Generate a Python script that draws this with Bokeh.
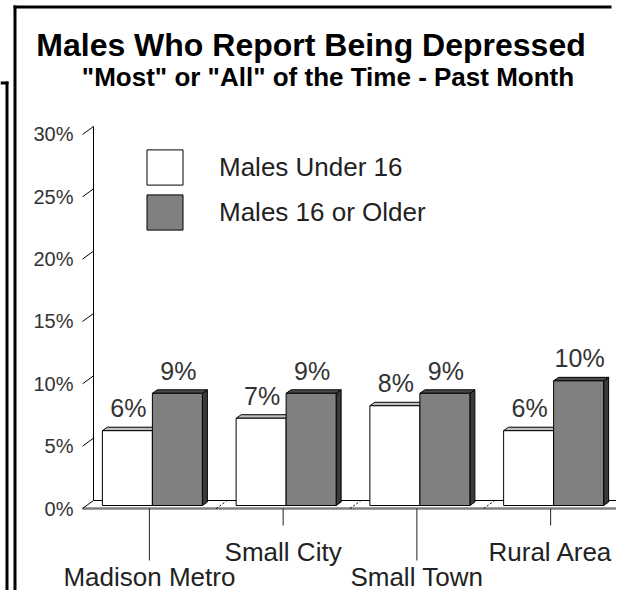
from bokeh.plotting import figure
from bokeh.models import (Range1d, LinearAxis, FixedTicker, Legend, LegendItem,
                          ColumnDataSource)
from bokeh.core.properties import value
from bokeh.embed import file_html
from bokeh.resources import INLINE

# ---------------- data ----------------
categories = ["Madison Metro", "Small City", "Small Town", "Rural Area"]
under16 = [6, 7, 8, 6]
older16 = [9, 9, 9, 10]
series_names = ["Males Under 16", "Males 16 or Older"]
y_ticks = [0, 5, 10, 15, 20, 25, 30]
y_tick_labels = ["0%", "5%", "10%", "15%", "20%", "25%", "30%"]
title_text = "Males Who Report Being Depressed"
subtitle_text = '"Most" or "All" of the Time - Past Month'

# ---------------- geometry (pixels of the picture) ----------------
W, H = 616, 590
X0, CAT_W = 82.0, 133.75      # front-left corner of floor, width of one category
Y0, PX = 508.0, 12.467        # front 0% line, pixels per percent


def dx(px):
    return px / CAT_W


def dy(px):
    return px / PX


def px2x(sx):
    return (sx - X0) / CAT_W


def px2y(sy):
    return (Y0 - sy) / PX


x_start, x_end = px2x(0), px2x(W)
y_end, y_start = px2y(0), px2y(H)

WD_X, WD_Y = dx(11), dy(8)        # wall / floor depth
BF_X, BF_Y = dx(3), dy(3)         # bar front offset into the depth
BD_X, BD_Y = dx(5), dy(3.5)       # bar own depth
BW = dx(50)                       # bar width
FONT = "Liberation Sans"
n = len(categories)
centers = [k + 0.5 for k in range(n)]

p = figure(width=W, height=H, output_backend="svg", toolbar_location=None,
           x_range=Range1d(x_start, x_end), y_range=Range1d(y_start, y_end),
           x_axis_type=None, y_axis_type=None, min_border=0,
           outline_line_color=None, background_fill_color="white")

# outer frames (partially visible), drawn as filled rectangles
frame_l = [13, 13, 5, 0]
frame_r = [16, 611, 8, 8]
frame_t = [5, 5, 81, 81]
frame_b = [H + 20, 8, H + 20, 84]
p.quad(left=[px2x(v) for v in frame_l], right=[px2x(v) for v in frame_r],
       top=[px2y(v) for v in frame_t], bottom=[px2y(v) for v in frame_b],
       fill_color="black", line_color=None)

# floor
p.patch([0, n, n + WD_X, WD_X], [0, 0, WD_Y, WD_Y], fill_color="white", line_color=None)
p.line([WD_X, n + WD_X], [WD_Y, WD_Y], line_color="black", line_width=1)
p.line([n, n + WD_X], [0, WD_Y], line_color="black", line_width=1)
p.line([0, n], [0, 0], line_color="#808080", line_width=2.5)
# category separators on the floor
seps = list(range(1, n))
p.segment(x0=seps, y0=[0] * len(seps), x1=[s + WD_X for s in seps], y1=[WD_Y] * len(seps),
          line_color="black", line_width=1, line_dash="2 2")

# side wall
p.line([WD_X, WD_X], [WD_Y, y_ticks[-1] + WD_Y], line_color="black", line_width=1)
p.segment(x0=[0] * len(y_ticks), y0=y_ticks, x1=[WD_X] * len(y_ticks),
          y1=[t + WD_Y for t in y_ticks], line_color="black", line_width=1)

# y axis labels
yaxis = LinearAxis(fixed_location=0, ticker=FixedTicker(ticks=y_ticks),
                   major_label_overrides={t: l for t, l in zip(y_ticks, y_tick_labels)},
                   axis_line_color=None, major_tick_line_color=None, minor_tick_line_color=None,
                   major_tick_in=0, major_tick_out=0, major_label_standoff=9,
                   major_label_text_font=FONT, major_label_text_font_size="20px",
                   major_label_text_color="#333333")
p.add_layout(yaxis, "left")


def bar_faces(lefts, rights, vals):
    tops_x, tops_y, side_x, side_y = [], [], [], []
    for l, r, v in zip(lefts, rights, vals):
        t = v + BF_Y
        b = BF_Y
        tops_x.append([l, r, r + BD_X, l + BD_X])
        tops_y.append([t, t, t + BD_Y, t + BD_Y])
        side_x.append([r, r, r + BD_X, r + BD_X])
        side_y.append([b, t, t + BD_Y, b + BD_Y])
    return tops_x, tops_y, side_x, side_y


renderers = []
series = [(under16, True, "white", "#c0c0c0", "#a0a0a0"),
          (older16, False, "#808080", "#4a4a4a", "#3a3a3a")]
for vals, first, front_c, top_c, side_c in series:
    if first:
        lefts = [c + BF_X - BW for c in centers]
        rights = [c + BF_X for c in centers]
    else:
        lefts = [c + BF_X for c in centers]
        rights = [c + BF_X + BW for c in centers]
    tx, ty, sx_, sy_ = bar_faces(lefts, rights, vals)
    p.patches(sx_, sy_, fill_color=side_c, line_color="black", line_width=1)
    p.patches(tx, ty, fill_color=top_c, line_color="black", line_width=1)
    src = ColumnDataSource(dict(left=lefts, right=rights, bottom=[BF_Y] * n,
                                top=[v + BF_Y for v in vals]))
    r = p.quad(left="left", right="right", bottom="bottom", top="top", source=src,
               fill_color=front_c, line_color="black", line_width=1)
    renderers.append(r)
    # value labels (centre of the digits ~22px above the bar top)
    p.text(x=[(l + rr) / 2 + dx(1) for l, rr in zip(lefts, rights)],
           y=[v + BF_Y + dy(22.5) for v in vals], text=[f"{v}%" for v in vals],
           text_align="center", text_baseline="middle",
           text_font=value(FONT), text_font_size="25px", text_color="#333333")

# category ticks and labels (staggered)
tick_ends = [-dy(52) if k % 2 == 0 else -dy(17) for k in range(n)]
p.segment(x0=centers, y0=[0] * n, x1=centers, y1=tick_ends, line_color="#222222", line_width=1)
label_y = [px2y(576) if k % 2 == 0 else px2y(551) for k in range(n)]
p.text(x=centers, y=label_y, text=categories, text_align="center", text_baseline="middle",
       text_font=value(FONT), text_font_size="26px", text_color="#222222")

# titles
p.text(x=[px2x(310.5)], y=[px2y(44)], text=[title_text], text_align="center",
       text_baseline="middle", text_font=value(FONT), text_font_size="32px",
       text_font_style="bold", text_color="black")
p.text(x=[px2x(327.5)], y=[px2y(76)], text=[subtitle_text], text_align="center",
       text_baseline="middle", text_font=value(FONT), text_font_size="26px",
       text_font_style="bold", text_color="black")

legend = Legend(items=[LegendItem(label=series_names[0], renderers=[renderers[0]]),
                       LegendItem(label=series_names[1], renderers=[renderers[1]])],
                location=(142, H - 234), orientation="vertical", glyph_width=45, glyph_height=44,
                label_standoff=32, spacing=1, padding=0, margin=0,
                border_line_color=None, background_fill_alpha=0,
                label_text_font=FONT, label_text_font_size="26px", label_text_color="#222222")
p.add_layout(legend)

open("out.html", "w").write(file_html(p, INLINE))
